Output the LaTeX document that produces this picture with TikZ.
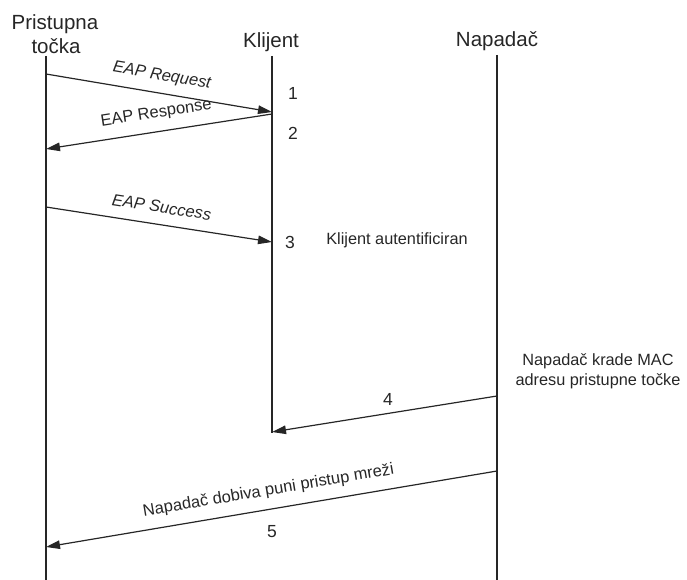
\documentclass[tikz,border=0pt]{standalone}
\usepackage{fontspec}
\setmainfont{Liberation Sans}
\usetikzlibrary{arrows.meta}
\begin{document}
\begin{tikzpicture}[x=1pt,y=-1pt,
  ink/.style={black!85},
  lifeline/.style={ink, line width=1.2pt},
  msg/.style={ink, line width=1.2pt, -{Triangle[length=14pt,width=8.5pt]}},
  head/.style={ink, font=\fontsize{20.5}{23}\selectfont, anchor=base, inner sep=0pt},
  note/.style={ink, font=\fontsize{16.3}{20}\selectfont, inner sep=0pt},
  msglabel/.style={ink, font=\fontsize{16.5}{20}\selectfont, inner sep=0pt},
  num/.style={ink, font=\fontsize{17.5}{20}\selectfont, inner sep=0pt}]
\useasboundingbox (0,0) rectangle (687,580);

% lifeline heads
\node[head] (ap1) at (55,30) {Pristupna};
\node[head] (ap2) at (56,54) {točka};
\node[head] (kl)  at (271,48) {Klijent};
\node[head] (np)  at (497,47) {Napadač};

% lifelines
\coordinate (apTop) at (46,56);  \coordinate (apBot) at (46,580);
\coordinate (klTop) at (272,56); \coordinate (klBot) at (272,433);
\coordinate (npTop) at (497,55); \coordinate (npBot) at (497,580);
\draw[lifeline] (apTop) -- (apBot);
\draw[lifeline] (klTop) -- (klBot);
\draw[lifeline] (npTop) -- (npBot);

% message end points
\coordinate (m1s) at (46,74);   \coordinate (m1e) at (272,112);
\coordinate (m2s) at (272,114); \coordinate (m2e) at (46,149);
\coordinate (m3s) at (46,207);  \coordinate (m3e) at (272,242);
\coordinate (m4s) at (497,396); \coordinate (m4e) at (272,432);
\coordinate (m5s) at (497,471); \coordinate (m5e) at (46,547);

% messages
\draw[msg] (m1s) -- node[msglabel, sloped, above=9pt] (l1) {\itshape EAP Request} (m1e);
\draw[msg] (m2s) -- node[msglabel, sloped, above=10pt] (l2) {EAP Response} (m2e);
\draw[msg] (m3s) -- node[msglabel, sloped, above=11pt] (l3) {\itshape EAP Success} (m3e);
\draw[msg] (m4s) -- (m4e);
\draw[msg] (m5s) -- node[msglabel, sloped, above=10pt] (l5) {Napadač dobiva puni pristup mreži} (m5e);

% step numbers
\node[num] (n1) at (293,93)  {1};
\node[num] (n2) at (293,133) {2};
\node[num] (n3) at (290,242) {3};
\node[num] (n4) at (388,399) {4};
\node[num] (n5) at (272,532) {5};

% notes
\node[note] (auth) at (397,240) {Klijent autentificiran};
\node[note, align=center] (steal) at (598,371) {Napadač krade MAC\\adresu pristupne točke};
\end{tikzpicture}
\end{document}
